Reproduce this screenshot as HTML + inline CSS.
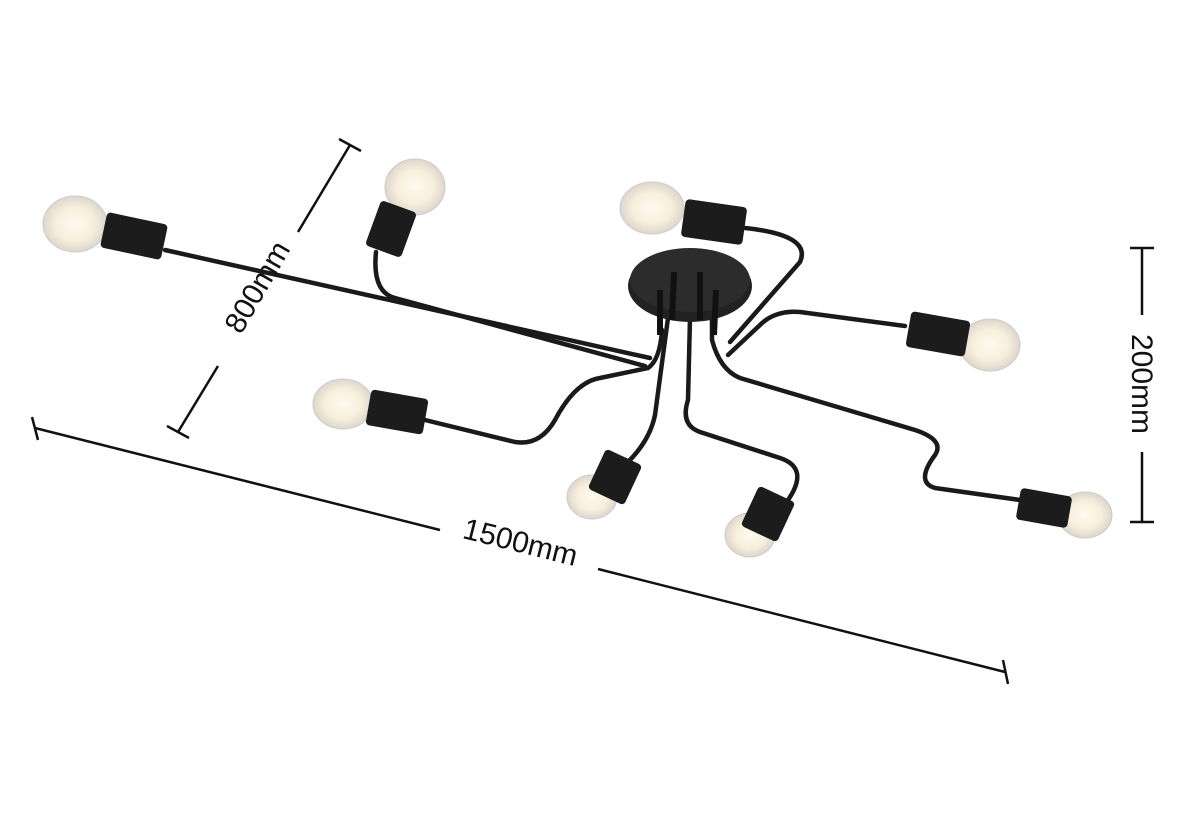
<!DOCTYPE html>
<html><head><meta charset="utf-8"><style>
html,body{margin:0;padding:0;background:#fff;}
svg{display:block}
</style></head><body>
<svg width="1180" height="832" viewBox="0 0 1180 832" xmlns="http://www.w3.org/2000/svg">
<defs>
<radialGradient id="b" cx="50%" cy="50%" r="50%">
<stop offset="0" stop-color="#fffaf0"/><stop offset="0.6" stop-color="#f7efdc"/><stop offset="1" stop-color="#ddd6cc"/>
</radialGradient>
</defs>
<rect width="1180" height="832" fill="#fff"/>
<g stroke="#111" stroke-width="2.5" fill="none">
<line x1="35" y1="428" x2="440" y2="530"/>
<line x1="598" y1="569" x2="1005" y2="672"/>
<line x1="32" y1="417" x2="38" y2="440"/>
<line x1="1003" y1="660" x2="1008" y2="684"/>
<line x1="178" y1="432" x2="218" y2="366"/>
<line x1="298" y1="232" x2="350" y2="145"/>
<line x1="167" y1="426" x2="189" y2="438"/>
<line x1="339" y1="139" x2="361" y2="151"/>
<line x1="1142" y1="248" x2="1142" y2="315"/>
<line x1="1142" y1="452" x2="1142" y2="522"/>
<line x1="1130" y1="248" x2="1154" y2="248"/>
<line x1="1130" y1="522" x2="1154" y2="522"/>
</g>
<g font-family="Liberation Sans, sans-serif" font-size="30" fill="#111" text-anchor="middle">
<text transform="translate(518,552) rotate(14)">1500mm</text>
<text transform="translate(266,292) rotate(-60)">800mm</text>
<text transform="translate(1132,384) rotate(90)">200mm</text>
</g>
<g stroke="#1a1a1a" stroke-width="4.5" fill="none" stroke-linecap="round" stroke-linejoin="round">
<path d="M165,250 L650,358"/>
<path d="M376,252 Q372,292 395,298 L645,366"/>
<path d="M745,228 Q812,235 800,262 L730,342"/>
<path d="M905,326 L800,312 Q775,310 760,325 L728,355"/>
<path d="M425,420 L515,442 Q540,446 555,420 Q575,382 600,378 L648,368 Q660,360 662,330"/>
<path d="M628,462 Q650,440 655,415 L668,318"/>
<path d="M788,500 Q810,468 780,458 L700,432 Q680,425 688,400 L690,318"/>
<path d="M1020,500 L935,488 Q915,482 935,455 Q945,440 915,430 L740,378 Q720,370 712,340 L712,318"/>
</g>
<ellipse cx="690" cy="286" rx="62" ry="36" fill="#222"/>
<ellipse cx="690" cy="280" rx="60" ry="32" fill="#2c2c2c"/>
<g stroke="#111" stroke-width="6">
<line x1="660" y1="290" x2="660" y2="335"/>
<line x1="674" y1="272" x2="672" y2="320"/>
<line x1="700" y1="272" x2="700" y2="320"/>
<line x1="716" y1="290" x2="714" y2="335"/>
</g>
<g>
<ellipse cx="75" cy="224" rx="32" ry="28" fill="url(#b)" stroke="#ccc"/>
<rect x="103" y="218" width="62" height="36" rx="4" fill="#1c1c1c" transform="rotate(12 134 236)"/>
<ellipse cx="415" cy="187" rx="30" ry="28" fill="url(#b)" stroke="#ccc"/>
<rect x="372" y="205" width="38" height="48" rx="4" fill="#1c1c1c" transform="rotate(20 391 229)"/>
<ellipse cx="652" cy="208" rx="32" ry="26" fill="url(#b)" stroke="#ccc"/>
<rect x="683" y="203" width="62" height="38" rx="4" fill="#1c1c1c" transform="rotate(8 714 222)"/>
<ellipse cx="990" cy="345" rx="30" ry="26" fill="url(#b)" stroke="#ccc"/>
<rect x="908" y="316" width="60" height="36" rx="4" fill="#1c1c1c" transform="rotate(10 938 334)"/>
<ellipse cx="343" cy="404" rx="30" ry="25" fill="url(#b)" stroke="#ccc"/>
<rect x="368" y="394" width="58" height="36" rx="4" fill="#1c1c1c" transform="rotate(10 397 412)"/>
<ellipse cx="592" cy="497" rx="25" ry="22" fill="url(#b)" stroke="#ccc"/>
<rect x="595" y="455" width="40" height="44" rx="4" fill="#1c1c1c" transform="rotate(25 615 477)"/>
<ellipse cx="750" cy="535" rx="25" ry="22" fill="url(#b)" stroke="#ccc"/>
<rect x="748" y="492" width="40" height="44" rx="4" fill="#1c1c1c" transform="rotate(25 768 514)"/>
<ellipse cx="1085" cy="515" rx="27" ry="23" fill="url(#b)" stroke="#ccc"/>
<rect x="1018" y="492" width="52" height="32" rx="4" fill="#1c1c1c" transform="rotate(10 1044 508)"/>
</g>
</svg>
</body></html>
